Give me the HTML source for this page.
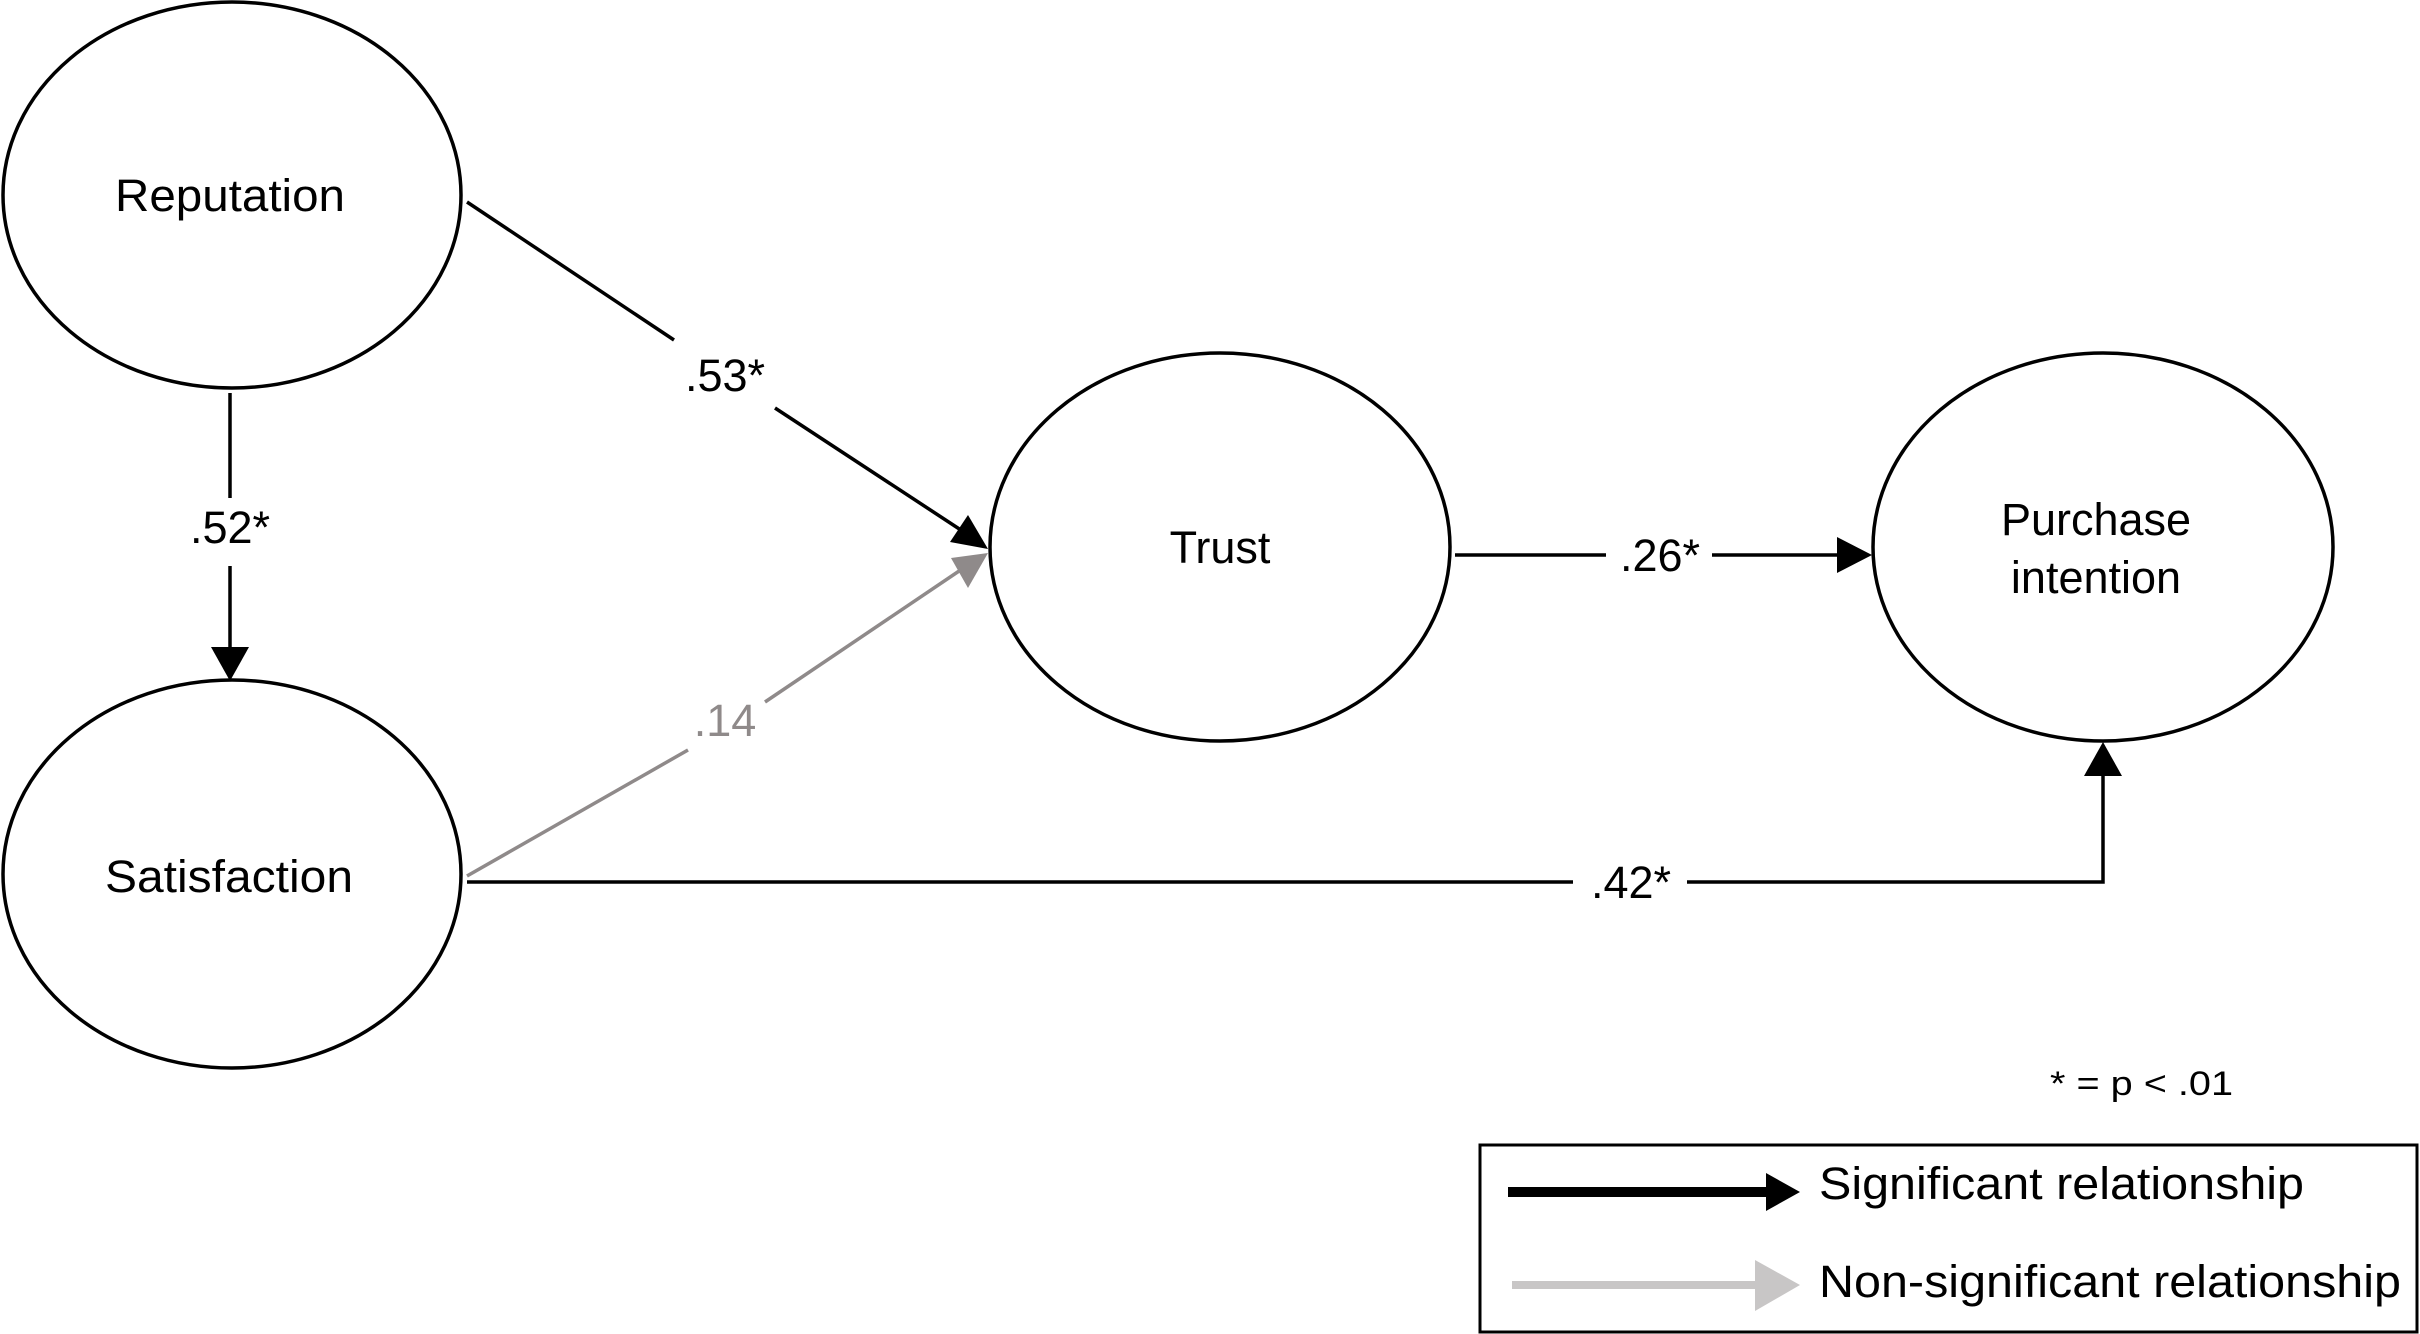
<!DOCTYPE html>
<html><head><meta charset="utf-8"><style>
html,body{margin:0;padding:0;background:#fff;}
svg{display:block;}
text{font-family:"Liberation Sans",Arial,sans-serif;}
</style></head><body>
<svg width="2420" height="1334" viewBox="0 0 2420 1334" xmlns="http://www.w3.org/2000/svg">
<g fill="none" stroke="#000" stroke-width="3.5">
<ellipse cx="232" cy="195" rx="229" ry="193"/>
<ellipse cx="232" cy="874" rx="229" ry="194"/>
<ellipse cx="1220" cy="547" rx="230" ry="194"/>
<ellipse cx="2103" cy="547" rx="230" ry="194"/>
</g>
<g font-size="45" text-anchor="middle" fill="#000">
<text x="230" y="211" textLength="230" lengthAdjust="spacingAndGlyphs">Reputation</text>
<text x="229" y="892" textLength="248" lengthAdjust="spacingAndGlyphs">Satisfaction</text>
<text x="1220" y="563">Trust</text>
<text x="2096" y="535">Purchase</text>
<text x="2096" y="593">intention</text>
</g>
<g stroke="#000" stroke-width="3.5" fill="none">
<line x1="230" y1="393" x2="230" y2="498"/>
<line x1="230" y1="566" x2="230" y2="650"/>
<line x1="467" y1="202" x2="674" y2="340"/>
<line x1="775" y1="408" x2="970" y2="536"/>
<line x1="1455" y1="555" x2="1606" y2="555"/>
<line x1="1712" y1="555" x2="1840" y2="555"/>
<polyline points="467,882 1573,882"/>
<polyline points="1687,882 2103,882 2103,772"/>
</g>
<g fill="#000">
<polygon points="211,647 249,647 230,681"/>
<polygon points="988,549 950,542 968,515"/>
<polygon points="1872,555 1837,537 1837,573"/>
<polygon points="2103,742 2084,776 2122,776"/>
</g>
<line x1="467" y1="876" x2="688" y2="750" stroke="#8f8a8a" stroke-width="3.5"/>
<line x1="765" y1="702" x2="968" y2="565" stroke="#8f8a8a" stroke-width="3.5"/>
<polygon points="988,553 951,558 968,588" fill="#8f8a8a"/>
<g font-size="45" text-anchor="middle" fill="#000">
<text x="230" y="543">.52*</text>
<text x="725" y="391">.53*</text>
<text x="1660" y="571">.26*</text>
<text x="1631" y="898">.42*</text>
<text x="725" y="736" fill="#8f8a8a">.14</text>
</g>
<text x="2050" y="1095" font-size="34" textLength="183" lengthAdjust="spacingAndGlyphs">* = p &lt; .01</text>
<rect x="1480" y="1145" width="937" height="187" fill="none" stroke="#000" stroke-width="3"/>
<line x1="1508" y1="1192" x2="1770" y2="1192" stroke="#000" stroke-width="10"/>
<polygon points="1766,1173 1800,1192 1766,1211" fill="#000"/>
<line x1="1512" y1="1285" x2="1758" y2="1285" stroke="#c8c6c6" stroke-width="8"/>
<polygon points="1755,1260 1800,1285 1755,1311" fill="#c8c6c6"/>
<text x="1819" y="1199" font-size="45" textLength="485" lengthAdjust="spacingAndGlyphs">Significant relationship</text>
<text x="1819" y="1297" font-size="45" textLength="582" lengthAdjust="spacingAndGlyphs">Non-significant relationship</text>
</svg>
</body></html>
